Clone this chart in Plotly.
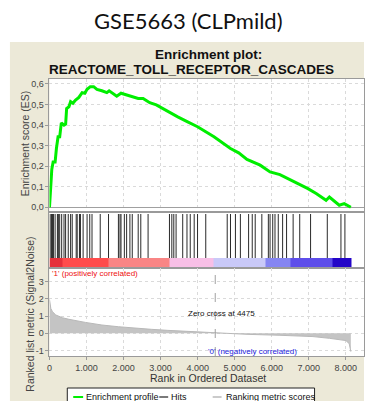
import plotly.graph_objects as go

# ---------------- data ----------------
TITLE = "GSE5663 (CLPmild)"
PLOT_TITLE_1 = "Enrichment plot:"
PLOT_TITLE_2 = "REACTOME_TOLL_RECEPTOR_CASCADES"

ES_RANK = [0, 18, 45, 62, 98, 152, 187, 232, 276, 320, 392, 436, 463, 525, 570, 633,
           704, 793, 881, 953, 1015, 1103, 1192, 1282, 1415, 1549, 1611, 1816, 1931,
           2127, 2395, 2528, 2706, 2884, 3196, 3463, 3730, 3997, 4441, 4887, 5108,
           5332, 5688, 5955, 6222, 6489, 6756, 6978, 7200, 7468, 7557, 7824, 7957, 8136]
ES_VAL = [0.0, 0.075, 0.115, 0.184, 0.22, 0.22, 0.286, 0.343, 0.343, 0.411, 0.40, 0.405,
          0.481, 0.489, 0.514, 0.506, 0.522, 0.535, 0.558, 0.555, 0.574, 0.587, 0.587,
          0.574, 0.567, 0.558, 0.567, 0.541, 0.555, 0.546, 0.530, 0.530, 0.509, 0.498,
          0.465, 0.440, 0.416, 0.392, 0.343, 0.286, 0.265, 0.233, 0.205, 0.172, 0.159,
          0.135, 0.112, 0.091, 0.067, 0.034, 0.050, 0.010, 0.018, 0.0]

HIT_RANKS = [18, 53, 80, 107, 152, 214, 240, 275, 329, 392, 435, 507, 570, 614, 721,
             748, 809, 836, 908, 1015, 1087, 1148, 1370, 1594, 1861, 1904, 1931, 2021,
             2083, 2171, 2235, 2395, 2465, 2662, 3239, 3303, 3356, 3418, 3597, 3712,
             3800, 3907, 3997, 4219, 4798, 4887, 5020, 5154, 5376, 5474, 5554, 5733,
             5909, 5955, 6027, 6088, 6177, 6294, 6401, 6578, 6756, 7049, 7500, 7869, 7976]

METRIC_RANK = [0, 36, 80, 170, 347, 525, 970, 1415, 1861, 2305, 2750, 3196, 3640,
               4085, 4475, 5332, 6222, 7113, 7557, 8003, 8092, 8136]
METRIC_VAL = [1.96, 1.44, 1.25, 1.06, 0.90, 0.81, 0.63, 0.48, 0.38, 0.29, 0.23, 0.17,
              0.12, 0.08, 0.0, -0.06, -0.115, -0.19, -0.29, -0.42, -0.6, -1.06]
ZERO_CROSS = 4475

CBAR_EDGES = [0, 350, 1600, 3240, 4440, 5830, 6500, 7650, 8140]
CBAR_COLORS = ["#E5303A", "#FF4C4C", "#F98585", "#F8BFE6", "#C9C9F8", "#8585F2",
               "#5E4EEA", "#2405C8"]

X_TICKS = [0, 1000, 2000, 3000, 4000, 5000, 6000, 7000, 8000]
X_TICKTEXT = ["0", "1.000", "2.000", "3.000", "4.000", "5.000", "6.000", "7.000", "8.000"]
ES_TICKS = [0.0, 0.1, 0.2, 0.3, 0.4, 0.5, 0.6]
ES_TICKTEXT = ["0,0", "0,1", "0,2", "0,3", "0,4", "0,5", "0,6"]
METRIC_TICKS = [-1, 0, 1, 2, 3]
METRIC_TICKTEXT = ["-1", "0", "1", "2", "3"]

LEGEND_LABELS = ["Enrichment profile", "Hits", "Ranking metric scores"]

# ---------------- layout helpers ----------------
W, H = 365, 401
def px(x):
    return x / W
def py(y):
    return 1 - y / H

FONT = "Liberation Sans, Arial, sans-serif"
GREEN = "#00EE00"
BORDER = "#9A9A9A"
GRID = "#DADADA"
BEIGE = "#ECE9D8"

fig = go.Figure()

# Enrichment profile
fig.add_trace(go.Scatter(x=ES_RANK, y=ES_VAL, mode="lines",
                         line=dict(color=GREEN, width=3),
                         xaxis="x", yaxis="y", showlegend=False, hoverinfo="skip"))

# colour bar of ranked list
fig.add_trace(go.Heatmap(x=CBAR_EDGES, y=[0, 10], z=[list(range(len(CBAR_COLORS)))],
                         zmin=0, zmax=len(CBAR_COLORS) - 1,
                         colorscale=[[i / (len(CBAR_COLORS) - 1), c] for i, c in enumerate(CBAR_COLORS)],
                         showscale=False, hoverinfo="skip", xaxis="x2", yaxis="y2"))

# hits
hx, hy = [], []
for r in HIT_RANKS:
    hx += [r, r, None]
    hy += [10, 54, None]
fig.add_trace(go.Scatter(x=hx, y=hy, mode="lines", line=dict(color="#2A2A2A", width=1),
                         xaxis="x2", yaxis="y2", showlegend=False, hoverinfo="skip"))

# ranking metric
fig.add_trace(go.Scatter(x=METRIC_RANK, y=METRIC_VAL, mode="lines", fill="tozeroy",
                         fillcolor="#C4C4C4", line=dict(color="#B8B8B8", width=1),
                         xaxis="x3", yaxis="y3", showlegend=False, hoverinfo="skip"))

XMAX = (365 - 47) / 0.03745
dom_x = [px(47), 1]
axis_common = dict(showline=True, mirror=True, linecolor=BORDER, linewidth=1)

shapes = [
    dict(type="rect", xref="paper", yref="paper", x0=px(7), x1=1, y0=-0.05, y1=py(42),
         fillcolor=BEIGE, line=dict(width=0), layer="below"),
    dict(type="rect", xref="paper", yref="paper", x0=px(47), x1=1, y0=py(356), y1=py(79),
         fillcolor="white", line=dict(width=0), layer="below"),
    dict(type="line", xref="x3", yref="y3 domain", x0=ZERO_CROSS, x1=ZERO_CROSS, y0=0, y1=1,
         line=dict(color="#A0A0A0", width=1, dash="dash")),
    # legend box
    dict(type="rect", xref="paper", yref="paper", x0=px(65), x1=px(315), y0=py(415), y1=py(388),
         fillcolor="white", line=dict(color="#222222", width=1)),
    dict(type="line", xref="paper", yref="paper", x0=px(71), x1=px(81), y0=py(397), y1=py(397),
         line=dict(color=GREEN, width=2)),
    dict(type="line", xref="paper", yref="paper", x0=px(158), x1=px(167), y0=py(397), y1=py(397),
         line=dict(color="#222222", width=1.2)),
    dict(type="line", xref="paper", yref="paper", x0=px(212), x1=px(221), y0=py(397), y1=py(397),
         line=dict(color="#A8A8A8", width=1.2)),
]

def ann(text, x, y, size, color, family=FONT, anchor="center", angle=0):
    return dict(text=text, x=px(x), y=py(y), xref="paper", yref="paper",
                xanchor=anchor, yanchor="middle", showarrow=False, textangle=angle,
                font=dict(family=family, size=size, color=color))

annotations = [
    ann(TITLE, 188, 21, 22, "#111111", family="Lato, Open Sans, sans-serif"),
    ann("<b>%s</b>" % PLOT_TITLE_1, 208, 54, 13.5, "#111111"),
    ann("<b>%s</b>" % PLOT_TITLE_2, 191, 69, 13.5, "#111111"),
    ann("Enrichment score (ES)", 22.5, 143, 10.5, "#444444", angle=-90),
    ann("Ranked list metric (Signal2Noise)", 27, 314, 10.5, "#444444", angle=-90),
    ann("Rank in Ordered Dataset", 207, 378, 10.5, "#333333"),
    ann("'1' (positively correlated)", 48, 273, 8, "#EE1111", anchor="left"),
    ann("Zero cross at %d" % ZERO_CROSS, 185, 313, 8, "#111111", anchor="left"),
    ann("'0' (negatively correlated)", 205, 351, 8, "#2222DD", anchor="left"),
]
for lx, lab in zip([82, 168, 223], LEGEND_LABELS):
    annotations.append(ann(lab, lx, 396.5, 9, "#111111", anchor="left"))

tickfont = dict(family=FONT, size=9, color="#444444")

fig.update_layout(
    width=W, height=H, margin=dict(l=0, r=0, t=0, b=0),
    paper_bgcolor="white", plot_bgcolor="rgba(0,0,0,0)",
    showlegend=False,
    xaxis=dict(domain=dom_x, range=[0, XMAX], anchor="y", showticklabels=False,
               showgrid=True, gridcolor=GRID, griddash="dot", tickvals=X_TICKS,
               zeroline=False, ticks="", **axis_common),
    xaxis2=dict(domain=dom_x, range=[0, XMAX], anchor="y2", showticklabels=False,
                showgrid=False, zeroline=False, ticks="", **axis_common),
    xaxis3=dict(domain=dom_x, range=[0, XMAX], anchor="y3", tickvals=X_TICKS,
                ticktext=X_TICKTEXT, tickfont=tickfont, ticks="outside", ticklen=3,
                tickcolor=BORDER, showgrid=True, gridcolor=GRID, griddash="dot",
                zeroline=False, **axis_common),
    yaxis=dict(domain=[py(212), py(79)], range=[-0.0229, 0.6243], anchor="x",
               tickvals=ES_TICKS, ticktext=ES_TICKTEXT, tickfont=tickfont,
               ticks="outside", ticklen=3, tickcolor=BORDER,
               showgrid=True, gridcolor=GRID, griddash="dot",
               zeroline=True, zerolinecolor="#A0A0A0", zerolinewidth=1, **axis_common),
    yaxis2=dict(domain=[py(268), py(212)], range=[0, 56], anchor="x2",
                showticklabels=False, showgrid=False, zeroline=False, ticks="", **axis_common),
    yaxis3=dict(domain=[py(356), py(268)], range=[-1.312, 3.775], anchor="x3",
                tickvals=METRIC_TICKS, ticktext=METRIC_TICKTEXT, tickfont=tickfont,
                ticks="outside", ticklen=3, tickcolor=BORDER,
                showgrid=True, gridcolor=GRID, griddash="dot", zeroline=False, **axis_common),
    shapes=shapes,
    annotations=annotations,
)

fig.write_html("out.html")
